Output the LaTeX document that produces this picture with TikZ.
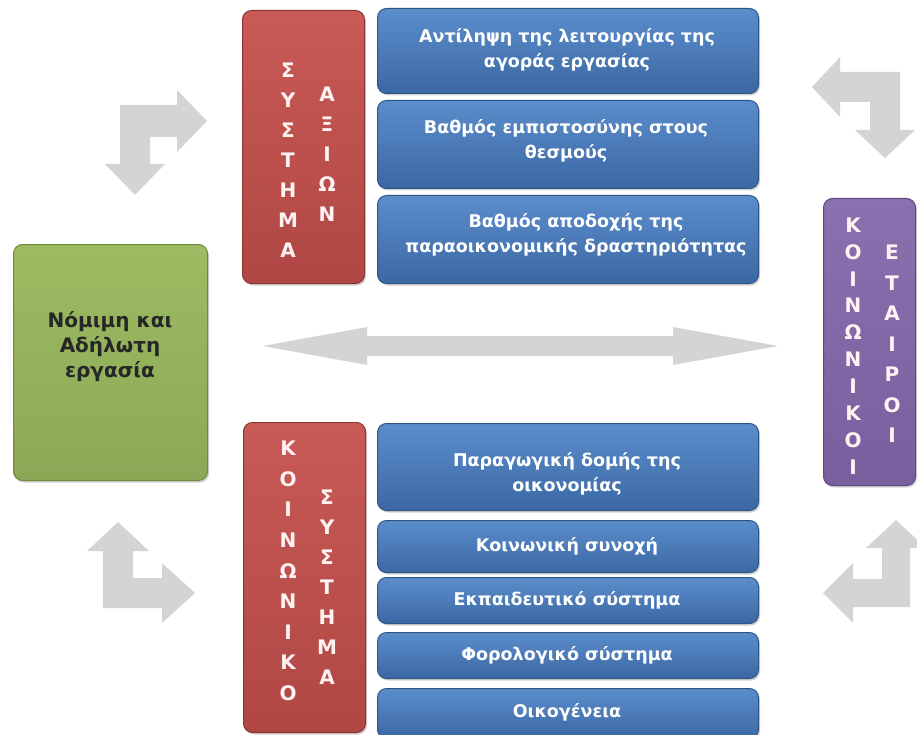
\documentclass[tikz,border=0pt]{standalone}
\usepackage{fontspec}
\setmainfont{DejaVu Sans}
\usetikzlibrary{shadows}
\definecolor{bluetop}{HTML}{5B8DCB}
\definecolor{bluebot}{HTML}{3B68A4}
\definecolor{blueedge}{HTML}{2E5585}
\definecolor{redtop}{HTML}{C85A57}
\definecolor{redbot}{HTML}{B04744}
\definecolor{rededge}{HTML}{8E3533}
\definecolor{greentop}{HTML}{9CBB62}
\definecolor{greenbot}{HTML}{8CA856}
\definecolor{greenedge}{HTML}{6E8A3C}
\definecolor{purptop}{HTML}{8A70AE}
\definecolor{purpbot}{HTML}{7A5F9E}
\definecolor{purpedge}{HTML}{5E4880}
\definecolor{arrowgray}{HTML}{D4D4D4}
\tikzset{
  box/.style={rounded corners=9pt, draw, line width=1pt, inner sep=0pt, anchor=north west,
    drop shadow={shadow xshift=1.5pt, shadow yshift=-2pt, opacity=0.35}},
  bluebox/.style={box, draw=blueedge, top color=bluetop, bottom color=bluebot},
  bluetext/.style={text=white, align=center, font=\bfseries\fontsize{17.5}{25}\selectfont},
  redbox/.style={box, draw=rededge, top color=redtop, bottom color=redbot},
  greenbox/.style={box, draw=greenedge, top color=greentop, bottom color=greenbot},
  purpbox/.style={box, draw=purpedge, top color=purptop, bottom color=purpbot},
  vletters/.style={text=white!95!red, align=center, inner sep=0pt, font=\bfseries\fontsize{20}{30}\selectfont},
  garrow/.style={fill=arrowgray, draw=none},
}
\begin{document}
\begin{tikzpicture}[x=1pt,y=-1pt]
\useasboundingbox (0,0) rectangle (917,735);
\fill[white] (0,0) rectangle (917,735);

% gray arrows
\draw[garrow] (120,105) -- (177,105) -- (177,90) -- (207,121) -- (177,152) -- (177,137)
  -- (150,137) -- (150,164) -- (165,164) -- (135,195) -- (105,164) -- (120,164) -- cycle;
\draw[garrow] (900,72) -- (840,72) -- (840,57) -- (812,87) -- (840,117) -- (840,102)
  -- (870,102) -- (870,130) -- (855,130) -- (885,158) -- (915,130) -- (900,130) -- cycle;
\draw[garrow] (103,551) -- (87,551) -- (118,522) -- (149,551) -- (133,551) -- (133,578)
  -- (162,578) -- (162,563) -- (195,593) -- (162,623) -- (162,608) -- (103,608) -- cycle;
\draw[garrow] (910,548) -- (926,548) -- (896,520) -- (866,548) -- (882,548) -- (882,579)
  -- (853,579) -- (853,563) -- (823,593) -- (853,623) -- (853,607) -- (910,607) -- cycle;
\draw[garrow] (263,346) -- (367,327) -- (367,336) -- (673,336) -- (673,327) -- (778,346)
  -- (673,365) -- (673,356) -- (367,356) -- (367,365) -- cycle;

% green box
\node[greenbox, minimum width=194pt, minimum height=236pt] (green) at (13,244) {};
\node[text=black!85, align=center, font=\bfseries\fontsize{20}{25}\selectfont] (greentxt) at (110,347)
  {Νόμιμη και\\Αδήλωτη\\εργασία};

% top red box
\node[redbox, minimum width=122pt, minimum height=273pt] (redtopbox) at (242,10) {};
\node[vletters] (sys1) at (288,160) {Σ\\Υ\\Σ\\Τ\\Η\\Μ\\Α};
\node[vletters] (ax) at (327,154) {Α\\Ξ\\Ι\\Ω\\Ν};

% top blue boxes
\node[bluebox, minimum width=381pt, minimum height=85pt] (b1) at (377,8) {};
\node[bluetext] (b1t) at (567,50) {Αντίληψη της λειτουργίας της\\αγοράς εργασίας};
\node[bluebox, minimum width=381pt, minimum height=88pt] (b2) at (377,100) {};
\node[bluetext] (b2t) at (566,141) {Βαθμός εμπιστοσύνης στους\\θεσμούς};
\node[bluebox, minimum width=381pt, minimum height=88pt] (b3) at (377,195) {};
\node[bluetext] (b3t) at (576,235) {Βαθμός αποδοχής της\\παραοικονομικής δραστηριότητας};

% purple box
\node[purpbox, minimum width=92pt, minimum height=287pt] (purp) at (823,198) {};
\node[vletters, font=\bfseries\fontsize{20}{26.9}\selectfont] (koin2) at (853,346) {Κ\\Ο\\Ι\\Ν\\Ω\\Ν\\Ι\\Κ\\Ο\\Ι};
\node[vletters, font=\bfseries\fontsize{20}{30.5}\selectfont] (etairoi) at (892,344) {Ε\\Τ\\Α\\Ι\\Ρ\\Ο\\Ι};

% bottom red box
\node[redbox, minimum width=122pt, minimum height=310pt] (redbotbox) at (243,422) {};
\node[vletters, font=\bfseries\fontsize{20}{30.6}\selectfont] (koin) at (288,571) {Κ\\Ο\\Ι\\Ν\\Ω\\Ν\\Ι\\Κ\\Ο};
\node[vletters] (sys2) at (327,587) {Σ\\Υ\\Σ\\Τ\\Η\\Μ\\Α};

% bottom blue boxes
\node[bluebox, minimum width=381pt, minimum height=87pt] (c1) at (377,423) {};
\node[bluetext] (c1t) at (567,474) {Παραγωγική δομής της\\οικονομίας};
\node[bluebox, minimum width=381pt, minimum height=52pt] (c2) at (377,520) {};
\node[bluetext] (c2t) at (567,546) {Κοινωνική συνοχή};
\node[bluebox, minimum width=381pt, minimum height=46pt] (c3) at (377,577) {};
\node[bluetext] (c3t) at (567,600) {Εκπαιδευτικό σύστημα};
\node[bluebox, minimum width=381pt, minimum height=46pt] (c4) at (377,632) {};
\node[bluetext] (c4t) at (567,655) {Φορολογικό σύστημα};
\node[bluebox, minimum width=381pt, minimum height=50pt] (c5) at (377,688) {};
\node[bluetext] (c5t) at (567,712) {Οικογένεια};
\end{tikzpicture}
\end{document}
